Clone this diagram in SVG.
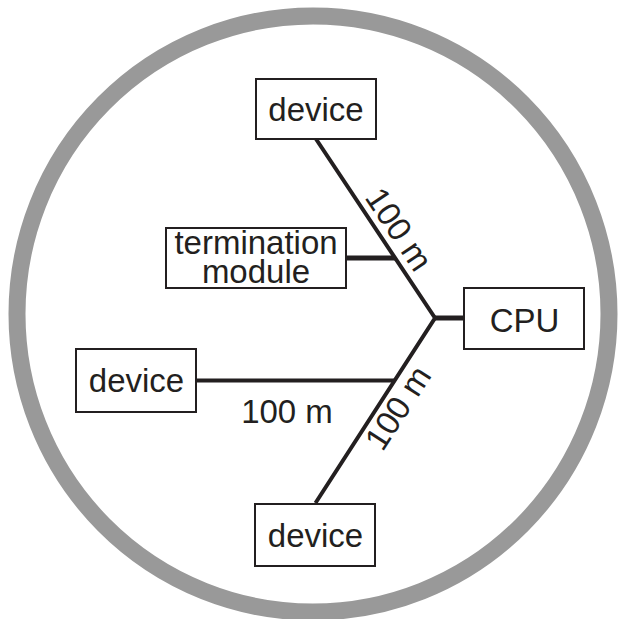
<svg xmlns="http://www.w3.org/2000/svg" width="619" height="619" viewBox="0 0 619 619">
<style>
.box{fill:#fff;stroke:#231f20;stroke-width:2}
.t{font-family:"Liberation Sans",Arial,sans-serif;font-size:33px;fill:#231f20;text-anchor:middle}
.c{stroke:#231f20;stroke-width:4;fill:none;stroke-linecap:butt}
.s{stroke:#231f20;stroke-width:5;fill:none}
</style>
<rect width="619" height="619" fill="#fff"/>
<ellipse id="ring" cx="313" cy="314" rx="296" ry="298" fill="none" stroke="#999999" stroke-width="17"/>
<g id="connectors">
<polyline class="c" points="316,139 435,318 315.5,503"/>
<line class="s" x1="346" y1="258" x2="395" y2="258"/>
<line class="s" x1="434" y1="318" x2="464" y2="318"/>
<line class="c" x1="196" y1="380.5" x2="395" y2="380.5"/>
<text class="t" transform="translate(389.5,235.5) rotate(56.2)">100 m</text>
<text class="t" transform="translate(407.5,414) rotate(-57.1)">100 m</text>
<text class="t" x="287" y="423">100 m</text>
</g>
<g id="device-top">
<rect class="box" x="256" y="79" width="120" height="60"/>
<text class="t" x="316" y="121">device</text>
</g>
<g id="termination">
<rect class="box" x="166" y="228" width="180" height="60"/>
<text class="t" x="256" y="254">termination</text>
<text class="t" x="256" y="283">module</text>
</g>
<g id="cpu">
<rect class="box" x="464" y="288" width="120" height="61"/>
<text class="t" x="524.5" y="332">CPU</text>
</g>
<g id="device-left">
<rect class="box" x="76" y="349" width="120" height="63"/>
<text class="t" x="136.5" y="392">device</text>
</g>
<g id="device-bottom">
<rect class="box" x="255" y="504" width="120" height="62"/>
<text class="t" x="315.5" y="547">device</text>
</g>
</svg>
